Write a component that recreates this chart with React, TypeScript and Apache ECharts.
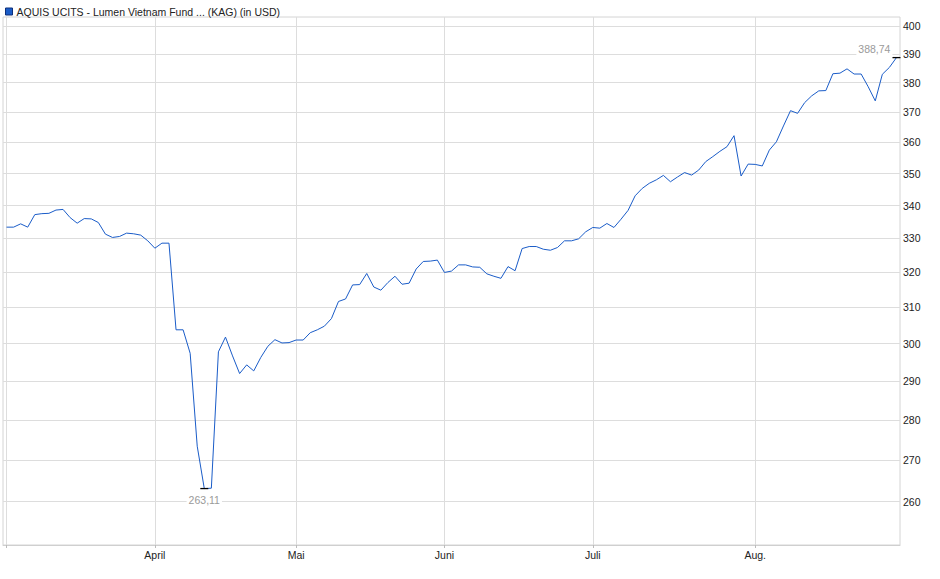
import { useEffect, useRef } from "react";
import * as echarts from "echarts";

// trading days per month (2025)
const monthNames = ["März", "April", "Mai", "Juni", "Juli", "Aug."];
const monthDays: number[][] = [
  [3, 4, 5, 6, 7, 10, 11, 12, 13, 14, 17, 18, 19, 20, 21, 24, 25, 26, 27, 28, 31],
  [1, 2, 3, 4, 7, 8, 9, 10, 11, 14, 15, 16, 17, 22, 23, 24, 25, 28, 29, 30],
  [2, 5, 6, 7, 8, 9, 12, 13, 14, 15, 16, 19, 20, 21, 22, 23, 26, 27, 28, 29, 30],
  [2, 3, 4, 5, 6, 9, 10, 11, 12, 13, 16, 17, 18, 19, 20, 23, 24, 25, 26, 27, 30],
  [1, 2, 3, 4, 7, 8, 9, 10, 11, 14, 15, 16, 17, 18, 21, 22, 23, 24, 25, 28, 29, 30, 31],
  [1, 4, 5, 6, 7, 8, 11, 12, 13, 14, 15, 18, 19, 20, 21, 22, 25, 26, 27, 28, 29],
];

const marchValues = [333.4, 333.4, 334.4, 333.4, 337.2, 337.5, 337.6, 338.6, 338.8, 336.3, 334.6, 336.0, 335.9, 334.8, 331.3, 330.3, 330.6, 331.6, 331.4, 331.0, 329.3];
const aprilValues = [327.1, 328.6, 328.6, 303.8, 303.8, 297.4, 273.4, 263.11, 263.2, 297.8, 301.8, 296.7, 292.0, 294.3, 292.7, 296.3, 299.3, 301.1, 300.2, 300.3];
const mayValues = [301.0, 301.0, 303.0, 303.8, 304.8, 306.9, 311.7, 312.4, 316.4, 316.5, 319.7, 315.8, 314.9, 317.1, 318.9, 316.6, 316.9, 321.0, 323.2, 323.3, 323.6];
const juneValues = [320.0, 320.4, 322.2, 322.2, 321.6, 321.5, 319.6, 318.9, 318.3, 321.7, 320.5, 327.0, 327.6, 327.6, 326.8, 326.5, 327.3, 329.3, 329.3, 329.9, 332.0];
const julyValues = [333.3, 333.1, 334.5, 333.3, 335.8, 338.5, 343.0, 345.3, 346.9, 348.0, 349.4, 347.4, 348.9, 350.3, 349.5, 351.1, 353.8, 355.4, 357.1, 358.6, 362.2, 349.2, 353.0];
const augValues = [352.9, 352.4, 357.5, 360.2, 365.4, 370.5, 369.6, 373.2, 375.5, 377.2, 377.3, 383.1, 383.3, 384.8, 383.0, 383.0, 378.6, 373.8, 382.9, 385.3, 388.74];

const yTicks = [260, 270, 280, 290, 300, 310, 320, 330, 340, 350, 360, 370, 380, 390, 400];

const seriesName = "AQUIS UCITS - Lumen Vietnam Fund ... (KAG) (in USD)";
const fontFamily = "'Liberation Sans', Arial, sans-serif";

export default function App() {
  const chartRef = useRef<HTMLDivElement>(null);

  useEffect(() => {
    if (!chartRef.current) return;
    const chart = echarts.init(chartRef.current, undefined, { renderer: "svg" });

    const values = [...marchValues, ...aprilValues, ...mayValues, ...juneValues, ...julyValues, ...augValues];
    const monthStarts: number[] = [];
    const monthOfIndex: Record<number, string> = {};
    let idx = 0;
    monthDays.forEach((days, m) => {
      monthStarts.push(idx);
      monthOfIndex[idx] = monthNames[m];
      idx += days.length;
    });
    const data = values.map((v, i) => [i, v]);
    const fmt = (v: number) => v.toFixed(2).replace(".", ",");

    chart.setOption({
      animation: false,
      textStyle: { fontFamily },
      legend: {
        left: 0,
        top: 1,
        itemWidth: 7,
        itemHeight: 7,
        itemGap: 5,
        icon: "rect",
        selectedMode: false,
        itemStyle: { borderColor: "#0d2f7a", borderWidth: 1 },
        textStyle: { fontSize: 10.5, color: "#222", padding: [0, 0, 0, -1] },
        data: [seriesName],
      },
      grid: {
        left: 3,
        right: 40,
        top: 17,
        bottom: 34,
        show: true,
        borderColor: "#d4d4d4",
        borderWidth: 1,
        backgroundColor: "transparent",
      },
      xAxis: {
        type: "value",
        min: -0.5,
        max: values.length - 0.5,
        axisLine: { show: true, lineStyle: { color: "#cfcfcf" } },
        axisTick: {
          show: true,
          length: 3,
          customValues: monthStarts,
          lineStyle: { color: "#bbbbbb" },
        },
        axisLabel: {
          customValues: monthStarts.slice(1),
          formatter: (v: number) => monthOfIndex[v] ?? "",
          fontSize: 10.5,
          color: "#222",
          margin: 4,
        },
        splitLine: { show: true, lineStyle: { color: "#dddddd", width: 1 } },
      },
      yAxis: {
        type: "log",
        logBase: 10,
        min: 250,
        max: 403.3,
        position: "right",
        axisLine: { show: false },
        axisTick: { show: false, customValues: yTicks },
        axisLabel: {
          customValues: yTicks,
          formatter: (v: number) => String(Math.round(v)),
          fontSize: 10.5,
          color: "#222",
          margin: 3,
        },
        splitLine: { show: true, lineStyle: { color: "#dddddd", width: 1 } },
      },
      series: [
        {
          name: seriesName,
          type: "line",
          data,
          symbol: "none",
          z: 3,
          color: "#1a5cc8",
          lineStyle: { width: 1, color: "#1a5cc8" },
          markPoint: {
            symbol: "rect",
            symbolSize: [8, 1.3],
            itemStyle: { color: "#000" },
            label: {
              fontSize: 10.5,
              color: "#9a9a9a",
              backgroundColor: "#fff",
              formatter: (p: any) => fmt(Array.isArray(p.value) ? p.value[1] : p.value),
            },
            data: [
              {
                type: "min",
                valueDim: "y",
                label: { position: "bottom", distance: 5, padding: [0, 2] },
              },
              {
                type: "max",
                valueDim: "y",
                label: { position: "top", distance: 2, align: "right", offset: [-4, 0], padding: [0, 2] },
              },
            ],
          },
        },
      ],
    });

    return () => chart.dispose();
  }, []);

  return (
    <div
      ref={chartRef}
      style={{ position: "fixed", left: 0, top: 0, width: 940, height: 579, background: "#fff" }}
    />
  );
}
